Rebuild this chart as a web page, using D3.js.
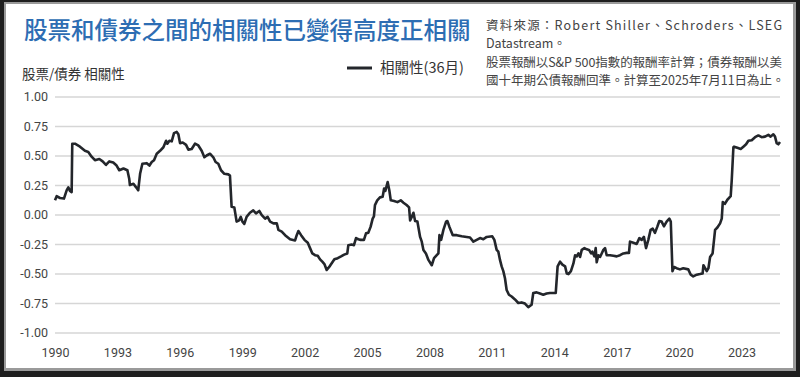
<!DOCTYPE html>
<html>
<head>
<meta charset="utf-8">
<script src="https://cdn.jsdelivr.net/npm/d3@7"></script>
<style>
  body { margin: 0; background: #fff; }
  svg { display: block; }
  .cjk { font-family: "Noto Sans CJK TC", "Noto Sans", sans-serif; }
  .num { font-family: Roboto, "Liberation Sans", sans-serif; }
</style>
</head>
<body>
<div id="chart"></div>
<script>
// chart data (decimal year, 36-month correlation)
var years = [
  1990.00, 1990.08, 1990.24, 1990.43, 1990.56, 1990.64, 1990.72, 1990.80, 1990.83, 1990.96,
  1991.20, 1991.44, 1991.60, 1991.76, 1991.92, 1992.13, 1992.29, 1992.45, 1992.61, 1992.80,
  1992.96, 1993.09, 1993.29, 1993.48, 1993.57, 1993.60, 1993.77, 1993.90, 1994.00, 1994.09,
  1994.20, 1994.41, 1994.54, 1994.65, 1994.76, 1994.89, 1995.05, 1995.21, 1995.34, 1995.40,
  1995.50, 1995.61, 1995.72, 1995.85, 1995.93, 1996.01, 1996.14, 1996.30, 1996.41, 1996.57,
  1996.73, 1996.89, 1997.05, 1997.18, 1997.29, 1997.45, 1997.61, 1997.72, 1997.85, 1997.98,
  1998.14, 1998.33, 1998.41, 1998.49, 1998.62, 1998.73, 1998.85, 1998.93, 1999.01, 1999.10,
  1999.21, 1999.37, 1999.53, 1999.66, 1999.82, 1999.94, 2000.10, 2000.22, 2000.34, 2000.50,
  2000.66, 2000.74, 2000.90, 2001.06, 2001.30, 2001.54, 2001.62, 2001.70, 2001.83, 2001.99,
  2002.15, 2002.26, 2002.37, 2002.50, 2002.63, 2002.74, 2002.85, 2002.95, 2003.06, 2003.22,
  2003.43, 2003.59, 2003.75, 2003.90, 2004.05, 2004.10, 2004.26, 2004.37, 2004.47, 2004.58,
  2004.69, 2004.85, 2004.95, 2005.06, 2005.17, 2005.27, 2005.33, 2005.38, 2005.49, 2005.62,
  2005.75, 2005.82, 2005.88, 2005.99, 2006.07, 2006.14, 2006.30, 2006.46, 2006.62, 2006.75,
  2006.90, 2007.02, 2007.07, 2007.15, 2007.23, 2007.31, 2007.42, 2007.55, 2007.63, 2007.71,
  2007.83, 2007.95, 2008.11, 2008.22, 2008.35, 2008.43, 2008.48, 2008.56, 2008.67, 2008.80,
  2008.86, 2008.96, 2009.12, 2009.31, 2009.55, 2009.79, 2009.95, 2010.11, 2010.27, 2010.43,
  2010.59, 2010.75, 2011.02, 2011.12, 2011.23, 2011.31, 2011.39, 2011.47, 2011.55, 2011.63,
  2011.71, 2011.82, 2011.95, 2012.11, 2012.27, 2012.43, 2012.59, 2012.75, 2012.91, 2012.99,
  2013.15, 2013.31, 2013.47, 2013.63, 2013.79, 2014.07, 2014.16, 2014.28, 2014.39, 2014.52,
  2014.60, 2014.68, 2014.80, 2014.92, 2015.00, 2015.08, 2015.16, 2015.24, 2015.32, 2015.45,
  2015.56, 2015.67, 2015.77, 2015.83, 2015.93, 2015.99, 2016.04, 2016.12, 2016.20, 2016.28,
  2016.36, 2016.44, 2016.52, 2016.68, 2016.84, 2017.00, 2017.16, 2017.32, 2017.48, 2017.59,
  2017.64, 2017.80, 2017.96, 2018.09, 2018.20, 2018.31, 2018.41, 2018.52, 2018.63, 2018.73,
  2018.84, 2018.95, 2019.05, 2019.16, 2019.27, 2019.40, 2019.53, 2019.60, 2019.68, 2019.76,
  2019.88, 2020.04, 2020.20, 2020.44, 2020.56, 2020.68, 2020.85, 2021.00, 2021.13, 2021.17,
  2021.25, 2021.33, 2021.41, 2021.49, 2021.61, 2021.73, 2021.84, 2021.97, 2022.05, 2022.10,
  2022.20, 2022.32, 2022.48, 2022.53, 2022.61, 2022.64, 2022.80, 2022.96, 2023.09, 2023.22,
  2023.33, 2023.49, 2023.65, 2023.81, 2023.97, 2024.13, 2024.29, 2024.40, 2024.53, 2024.61,
  2024.69, 2024.77, 2024.85
];
var corr = [
  0.12, 0.155, 0.14, 0.135, 0.205, 0.23, 0.20, 0.19, 0.60, 0.60,
  0.575, 0.54, 0.53, 0.49, 0.46, 0.47, 0.45, 0.42, 0.45, 0.44,
  0.415, 0.375, 0.39, 0.375, 0.30, 0.25, 0.26, 0.23, 0.205, 0.345,
  0.43, 0.435, 0.415, 0.445, 0.46, 0.515, 0.54, 0.57, 0.625, 0.60,
  0.625, 0.62, 0.69, 0.70, 0.68, 0.605, 0.61, 0.59, 0.55, 0.555,
  0.60, 0.585, 0.54, 0.485, 0.50, 0.515, 0.485, 0.445, 0.43, 0.375,
  0.345, 0.34, 0.33, 0.065, 0.06, -0.06, -0.05, -0.02, -0.06, -0.08,
  -0.02, 0.015, 0.035, 0.01, 0.03, -0.005, -0.035, -0.02, -0.06, -0.075,
  -0.075, -0.13, -0.145, -0.175, -0.21, -0.22, -0.175, -0.14, -0.175, -0.215,
  -0.24, -0.285, -0.33, -0.345, -0.35, -0.38, -0.40, -0.42, -0.47, -0.435,
  -0.38, -0.37, -0.355, -0.34, -0.33, -0.26, -0.255, -0.26, -0.20, -0.21,
  -0.215, -0.215, -0.16, -0.155, -0.105, -0.035, -0.015, 0.08, 0.12, 0.145,
  0.15, 0.22, 0.20, 0.275, 0.205, 0.12, 0.115, 0.105, 0.12, 0.10,
  0.08, 0.06, -0.05, -0.02, 0.015, -0.055, -0.06, -0.19, -0.23, -0.30,
  -0.33, -0.385, -0.43, -0.37, -0.345, -0.33, -0.175, -0.215, -0.13, -0.06,
  -0.055, -0.105, -0.175, -0.175, -0.185, -0.19, -0.195, -0.23, -0.215, -0.20,
  -0.21, -0.19, -0.185, -0.215, -0.30, -0.315, -0.385, -0.44, -0.48, -0.54,
  -0.64, -0.68, -0.695, -0.72, -0.75, -0.745, -0.755, -0.785, -0.765, -0.665,
  -0.66, -0.67, -0.68, -0.67, -0.665, -0.665, -0.44, -0.40, -0.425, -0.44,
  -0.50, -0.505, -0.48, -0.415, -0.345, -0.355, -0.33, -0.36, -0.30, -0.285,
  -0.295, -0.30, -0.33, -0.315, -0.355, -0.285, -0.405, -0.345, -0.36, -0.33,
  -0.30, -0.285, -0.345, -0.345, -0.35, -0.355, -0.345, -0.33, -0.325, -0.325,
  -0.23, -0.24, -0.25, -0.20, -0.215, -0.19, -0.285, -0.215, -0.13, -0.12,
  -0.155, -0.105, -0.055, -0.06, -0.10, -0.06, -0.035, -0.06, -0.48, -0.445,
  -0.455, -0.465, -0.455, -0.465, -0.51, -0.525, -0.51, -0.505, -0.50, -0.43,
  -0.455, -0.48, -0.455, -0.36, -0.33, -0.13, -0.11, -0.075, -0.035, 0.105,
  0.09, 0.125, 0.155, 0.29, 0.57, 0.575, 0.565, 0.555, 0.575, 0.595,
  0.625, 0.63, 0.655, 0.67, 0.655, 0.66, 0.675, 0.66, 0.68, 0.66,
  0.605, 0.595, 0.615
];
var xTicks = [1990, 1993, 1996, 1999, 2002, 2005, 2008, 2011, 2014, 2017, 2020, 2023];
var yTicks = [1, 0.75, 0.5, 0.25, 0, -0.25, -0.5, -0.75, -1];

var titleText = "股票和債券之間的相關性已變得高度正相關";
var yTitle = "股票/債券 相關性";
var seriesName = "相關性(36月)";
var sourceLines = [
  "資料來源：Robert Shiller、Schroders、LSEG",
  "Datastream。",
  "股票報酬以S&P 500指數的報酬率計算；債券報酬以美",
  "國十年期公債報酬回準。計算至2025年7月11日為止。"
];

var data = years.map(function(y, i) { return { year: y, value: corr[i] }; });

var width = 800, height = 377;
var plot = { left: 55, right: 780, top: 96.5, bottom: 332.5 };

var svg = d3.select("#chart").append("svg")
    .attr("width", width)
    .attr("height", height);

// frame
svg.append("rect").attr("width", width).attr("height", height).attr("fill", "#1e1e1e");
svg.append("rect").attr("x", 4).attr("y", 2).attr("width", 792).attr("height", 369).attr("fill", "#9a9a9a");
svg.append("rect").attr("x", 6).attr("y", 4).attr("width", 787).attr("height", 364).attr("fill", "#fff");

var x = d3.scaleLinear().domain([1990, 2024.85]).range([plot.left, plot.right]);
var y = d3.scaleLinear().domain([-1, 1]).range([plot.bottom, plot.top]);

// y grid + labels
var yAxis = svg.append("g")
    .attr("class", "num")
    .attr("transform", "translate(" + plot.left + ",0)")
    .call(d3.axisLeft(y)
      .tickValues(yTicks)
      .tickSize(-(plot.right - plot.left))
      .tickPadding(7)
      .tickFormat(function(d) { return d.toFixed(2); }));
yAxis.select(".domain").remove();
yAxis.selectAll(".tick line").attr("stroke", "#d6d6d6").attr("stroke-width", 1.5);
yAxis.selectAll(".tick text").attr("fill", "#444").attr("font-size", 12.5);

// x labels
var xAxis = svg.append("g")
    .attr("class", "num")
    .attr("transform", "translate(0," + plot.bottom + ")")
    .call(d3.axisBottom(x)
      .tickValues(xTicks)
      .tickSize(0)
      .tickPadding(16)
      .tickFormat(d3.format("d")));
xAxis.select(".domain").remove();
xAxis.selectAll(".tick text").attr("fill", "#444").attr("font-size", 12.5);

// the line
var line = d3.line()
    .x(function(d) { return x(d.year); })
    .y(function(d) { return y(d.value); });

svg.append("path")
    .datum(data)
    .attr("d", line)
    .attr("fill", "none")
    .attr("stroke", "#23262b")
    .attr("stroke-width", 2.6)
    .attr("stroke-linejoin", "round");

// title
svg.append("text")
    .attr("class", "cjk")
    .attr("x", 24)
    .attr("y", 39)
    .attr("font-size", 23.5)
    .attr("font-weight", 500)
    .attr("fill", "#2d6db3")
    .text(titleText);

// y axis title
svg.append("text")
    .attr("class", "cjk")
    .attr("x", 22)
    .attr("y", 79)
    .attr("font-size", 13.5)
    .attr("fill", "#333")
    .text(yTitle);

// legend
svg.append("line")
    .attr("x1", 347).attr("x2", 372)
    .attr("y1", 68).attr("y2", 68)
    .attr("stroke", "#23262b")
    .attr("stroke-width", 3);
svg.append("text")
    .attr("class", "cjk")
    .attr("x", 380)
    .attr("y", 73)
    .attr("font-size", 14.5)
    .attr("fill", "#333")
    .text(seriesName);

// source note, first and third lines justified
var src = svg.append("g").attr("class", "cjk").attr("fill", "#444").attr("font-size", 12.5);
sourceLines.forEach(function(t, i) {
  var tx = src.append("text")
      .attr("x", 486)
      .attr("y", 29.5 + i * 18.5)
      .text(t);
  if (i === 0 || i === 2) {
    tx.attr("textLength", 296).attr("lengthAdjust", "spacing");
  }
});
</script>
</body>
</html>
